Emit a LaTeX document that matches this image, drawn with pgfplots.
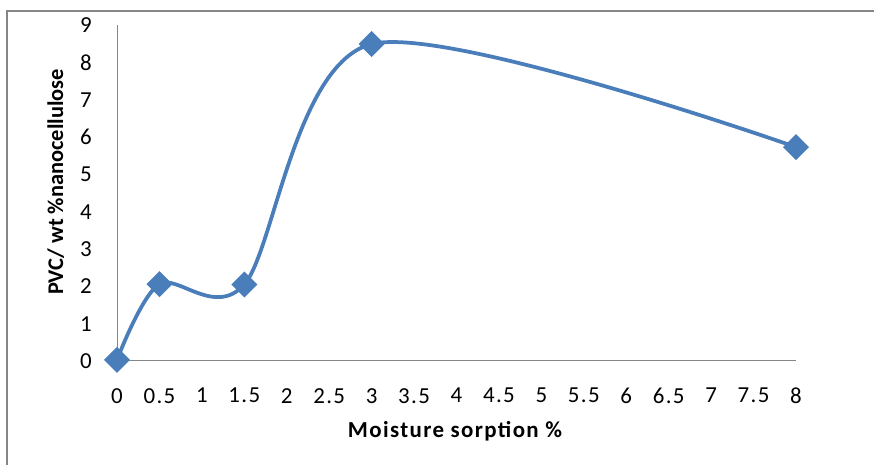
\documentclass[border=0pt]{standalone}
\usepackage{fontspec}
\setmainfont{Carlito}[LetterSpace=6]
\usepackage{pgfplots}
\pgfplotsset{compat=1.18}
\definecolor{xlblue}{HTML}{4A7EBB}
\definecolor{xlgray}{HTML}{868686}
\begin{document}
\begin{tikzpicture}
\begin{scope}
  \clip (0bp,0bp) rectangle (874bp,465bp);
  \draw[xlgray, line width=1.5bp] (7bp,-20bp) -- (7bp,454bp) -- (900bp,454bp);
\end{scope}
\begin{axis}[
  at={(117bp,104bp)}, anchor=origin,
  scale only axis, width=679bp, height=336bp,
  xmin=0, xmax=8, ymin=0, ymax=9,
  axis lines*=left,
  axis line style={xlgray, line width=1bp},
  xtick={0,0.5,1,1.5,2,2.5,3,3.5,4,4.5,5,5.5,6,6.5,7,7.5,8},
  ytick={0,1,2,3,4,5,6,7,8,9},
  major tick length=0pt,
  tick label style={font=\fontsize{23}{23}\selectfont, inner sep=0pt},
  xticklabel style={yshift=-27bp},
  yticklabel style={xshift=-25bp},
  /pgf/number format/assume math mode=true,
  clip=false,
]
\addplot[xlblue, line width=3.75bp, smooth, tension=0.5,
  mark=square*, mark size=7.3bp, mark options={rotate=45, solid}]
  coordinates {(0,0.03) (0.5,2.06) (1.5,2.05) (3,8.49) (8,5.73)};
\end{axis}
\node[rotate=90, anchor=base,
  font=\bfseries\fontsize{22.5}{22.5}\selectfont\addfontfeature{LetterSpace=0}]
  at (63bp,283bp) {PVC/ wt \%nanocellulose};
\node[anchor=base, font=\bfseries\fontsize{23}{23}\selectfont]
  at (455bp,28bp) {Moisture sorption \%};
\pgfresetboundingbox
\useasboundingbox (0bp,0bp) rectangle (874bp,465bp);
\end{tikzpicture}
\end{document}
